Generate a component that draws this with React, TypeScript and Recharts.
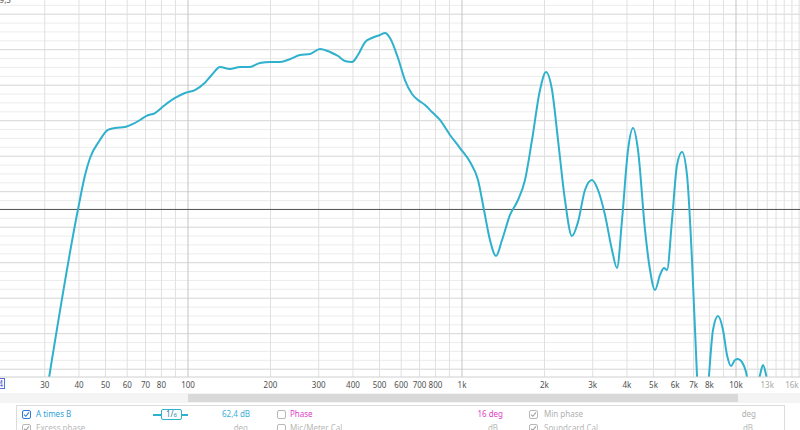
import React from "react";
import { LineChart, Line, XAxis, YAxis, ReferenceLine } from "recharts";

// Frequency response (A times B)
const freqs = [30, 39.7, 42.1, 43.9, 47.7, 51, 54.2, 58.9, 63, 66.8, 70.3, 75.8, 82.4, 89.7, 97.5, 106, 115, 122, 131, 142, 155, 168, 183, 200, 217, 236, 256, 279, 303, 330, 353, 374, 397, 417, 443, 469, 502, 524, 546, 584, 619, 657, 691, 733, 777, 831, 904, 983, 1070, 1144, 1203, 1265, 1331, 1400, 1497, 1601, 1698, 1801, 1926, 2026, 2131, 2241, 2376, 2520, 2651, 2811, 2982, 3136, 3326, 3527, 3679, 3837, 4035, 4209, 4389, 4655, 4855, 5063, 5280, 5461, 5601, 5841, 6092, 6353, 6625, 6909, 7206, 7389, 7770, 7969, 8242, 8596, 8966, 9273, 9590, 9920, 10170, 10520, 10880, 11250, 11730, 12240, 12550, 12870, 13310, 17100];
const levels = [30, 57.56, 62.35, 64.75, 67.28, 68.69, 68.97, 69.11, 69.54, 70.1, 70.66, 71.08, 72.21, 73.2, 73.9, 74.32, 75.31, 76.44, 77.56, 77.28, 77.56, 77.56, 78.13, 78.27, 78.27, 78.69, 79.25, 79.39, 80.1, 79.68, 79.11, 78.41, 78.27, 79.25, 81.08, 81.65, 82.07, 82.35, 81.65, 78.83, 75.73, 73.76, 72.92, 72.21, 71.23, 70.1, 67.99, 66.15, 64.18, 61.65, 57.42, 53.2, 50.94, 53.2, 56.72, 58.83, 61.65, 67.28, 74.32, 76.86, 74.32, 67.28, 58.83, 53.76, 55.73, 60.24, 61.65, 60.24, 56.72, 51.79, 49.25, 56.01, 65.87, 68.97, 65.87, 54.61, 48.97, 46.15, 48.27, 49.25, 48.97, 56.01, 63.76, 65.59, 62.35, 50.38, 34.04, 26.44, 27.85, 34.04, 40.52, 42.49, 40.52, 37, 35.45, 36.3, 36.44, 36, 34.6, 31.37, 30.7, 34.2, 35.6, 34.2, 30.7, 27.8];

// Axis ticks
const tickFreqs = [30, 40, 50, 60, 70, 80, 100, 200, 300, 400, 500, 600, 700, 800, 1000, 2000, 3000, 4000, 5000, 6000, 7000, 8000, 10000, 13000, 16000];
const tickLabels = ["30", "40", "50", "60", "70", "80", "100", "200", "300", "400", "500", "600", "700", "800", "1k", "2k", "3k", "4k", "5k", "6k", "7k", "8k", "10k", "13k", "16k"];
const fadedTicks = [13000, 16000];

// Grid
const minorFreqs = [30, 40, 50, 60, 70, 80, 90, 200, 300, 400, 500, 600, 700, 800, 900, 2000, 3000, 4000, 5000, 6000, 7000, 8000, 9000, 11000, 12000, 13000, 14000, 15000, 16000, 17000];
const decadeFreqs = [100, 1000, 10000];
const xDomain = [20.6, 17123];
const yDomain = [33.9, 87];
const refLevel = 57.5;

const gridMinor: number[] = [];
const gridMajor: number[] = [];
for (let v = 35; v <= 87; v += 1.25) {
  if (Math.abs(v / 5 - Math.round(v / 5)) < 1e-6) gridMajor.push(v);
  else gridMinor.push(v);
}

const data = freqs.map((f, i) => ({ f, db: levels[i] }));

const FONT = "'Noto Sans', 'Open Sans', sans-serif";

const Tick = (props: any) => {
  const { x, y, payload } = props;
  const idx = tickFreqs.indexOf(payload.value);
  const label = idx >= 0 ? tickLabels[idx] : "";
  const faded = fadedTicks.includes(payload.value);
  return (
    <text x={x} y={y + 11} textAnchor="middle" fontSize={8} fontFamily={FONT} fill={faded ? "#a8a8a8" : "#505050"}>
      {label}
    </text>
  );
};

const Check = ({ checked, color, grey }: { checked: boolean; color: string; grey?: boolean }) => (
  <div
    style={{
      width: 9,
      height: 9,
      border: `1px solid ${grey ? "#b8b8b8" : color}`,
      borderRadius: 2,
      display: "flex",
      alignItems: "center",
      justifyContent: "center",
      background: "#fff",
      boxSizing: "border-box",
    }}
  >
    {checked && (
      <svg width="7" height="7" viewBox="0 0 7 7">
        <path d="M1 3.6 L2.8 5.3 L6 1.4" fill="none" stroke={grey ? "#a0a0a0" : color} strokeWidth="1.1" />
      </svg>
    )}
  </div>
);

const txt = (left: number, top: number, s: string, color: string, align: "left" | "right" = "left") => (
  <div
    style={{
      position: "absolute",
      top,
      ...(align === "left" ? { left } : { right: 800 - left }),
      fontSize: 8,
      fontFamily: FONT,
      color,
      whiteSpace: "nowrap",
      lineHeight: "10px",
    }}
  >
    {s}
  </div>
);

export default function App() {
  return (
    <div style={{ position: "absolute", left: 0, top: 0, width: 800, height: 430, overflow: "hidden", background: "#fff" }}>
      <div style={{ position: "absolute", left: 0, top: 0 }}>
        <LineChart width={800} height={393} data={data} margin={{ top: 0, right: 0, bottom: 0, left: 0 }}>
          <XAxis
            dataKey="f"
            type="number"
            scale="log"
            domain={xDomain}
            allowDataOverflow
            ticks={tickFreqs}
            tick={<Tick />}
            tickLine={false}
            tickSize={0}
            tickMargin={0}
            axisLine={{ stroke: "#d0d0d0" }}
            height={16}
            interval={0}
          />
          <YAxis type="number" domain={yDomain} allowDataOverflow hide />
          {gridMinor.map((v) => (
            <ReferenceLine key={"hm" + v} y={v} stroke="#ececec" strokeWidth={1} />
          ))}
          {gridMajor.map((v) => (
            <ReferenceLine key={"hM" + v} y={v} stroke="#d6d6d6" strokeWidth={1} />
          ))}
          {minorFreqs.map((f) => (
            <ReferenceLine key={"vm" + f} x={f} stroke="#e0e0e0" strokeWidth={1} />
          ))}
          {decadeFreqs.map((f) => (
            <ReferenceLine key={"vM" + f} x={f} stroke="#c4c4c4" strokeWidth={1} />
          ))}
          <ReferenceLine y={refLevel} stroke="#505050" strokeWidth={1} />
          <Line
            type="monotone"
            dataKey="db"
            stroke="#2fb1cd"
            strokeWidth={2}
            dot={false}
            isAnimationActive={false}
          />
        </LineChart>
      </div>

      {/* top-left clipped value */}
      <div style={{ position: "absolute", left: -5, top: -6, fontSize: 8, fontFamily: FONT, color: "#505050" }}>89,5</div>

      {/* left clipped box */}
      <div
        style={{
          position: "absolute",
          left: -12,
          top: 378,
          width: 17,
          height: 11,
          border: "1px solid #5a6ee0",
          fontSize: 8,
          fontFamily: FONT,
          color: "#3a4ec8",
          textAlign: "right",
          lineHeight: "9px",
          paddingRight: 1,
          boxSizing: "border-box",
        }}
      >
        24
      </div>

      {/* scrollbar */}
      <div style={{ position: "absolute", left: 0, top: 393, width: 800, height: 10, background: "#f4f4f4" }} />
      <div style={{ position: "absolute", left: 188, top: 394, width: 550, height: 8, background: "#d9d9d9" }} />

      {/* legend panel */}
      <div
        style={{
          position: "absolute",
          left: 16,
          top: 405,
          width: 767,
          height: 40,
          border: "1px solid #dcdcdc",
          background: "#fff",
        }}
      />
      <div style={{ position: "absolute", left: 22, top: 410 }}>
        <Check checked color="#2e7ad6" />
      </div>
      {txt(36, 409, "A times B", "#2f9fd8")}
      {/* smoothing icon */}
      <div style={{ position: "absolute", left: 153, top: 414, width: 35, height: 1.5, background: "#2fb1cd" }} />
      <div
        style={{
          position: "absolute",
          left: 161,
          top: 409,
          width: 21,
          height: 11,
          border: "1.5px solid #2fb1cd",
          borderRadius: 2,
          background: "#fff",
          boxSizing: "border-box",
          fontSize: 8,
          fontFamily: FONT,
          color: "#2a7fa0",
          textAlign: "center",
          lineHeight: "8px",
        }}
      >
        1/<span style={{ fontSize: 6 }}>6</span>
      </div>
      {txt(222, 409, "62,4 dB", "#3ab0d8")}
      <div style={{ position: "absolute", left: 277, top: 410 }}>
        <Check checked={false} color="#b0b0b0" grey />
      </div>
      {txt(290, 409, "Phase", "#e040c8")}
      {txt(503, 409, "16 deg", "#e040c8", "right")}
      <div style={{ position: "absolute", left: 529, top: 410 }}>
        <Check checked color="#a0a0a0" grey />
      </div>
      {txt(544, 409, "Min phase", "#b0b0b0")}
      {txt(756, 409, "deg", "#b0b0b0", "right")}

      {/* second row (partly cut) */}
      <div style={{ position: "absolute", left: 22, top: 424 }}>
        <Check checked color="#a0a0a0" grey />
      </div>
      {txt(36, 423, "Excess phase", "#b8b8b8")}
      {txt(248, 423, "deg", "#b8b8b8", "right")}
      <div style={{ position: "absolute", left: 277, top: 424 }}>
        <Check checked={false} color="#b0b0b0" grey />
      </div>
      {txt(290, 423, "Mic/Meter Cal", "#b8b8b8")}
      {txt(498, 423, "dB", "#b8b8b8", "right")}
      <div style={{ position: "absolute", left: 529, top: 424 }}>
        <Check checked color="#a0a0a0" grey />
      </div>
      {txt(544, 423, "Soundcard Cal", "#b8b8b8")}
      {txt(753, 423, "dB", "#b8b8b8", "right")}
    </div>
  );
}
